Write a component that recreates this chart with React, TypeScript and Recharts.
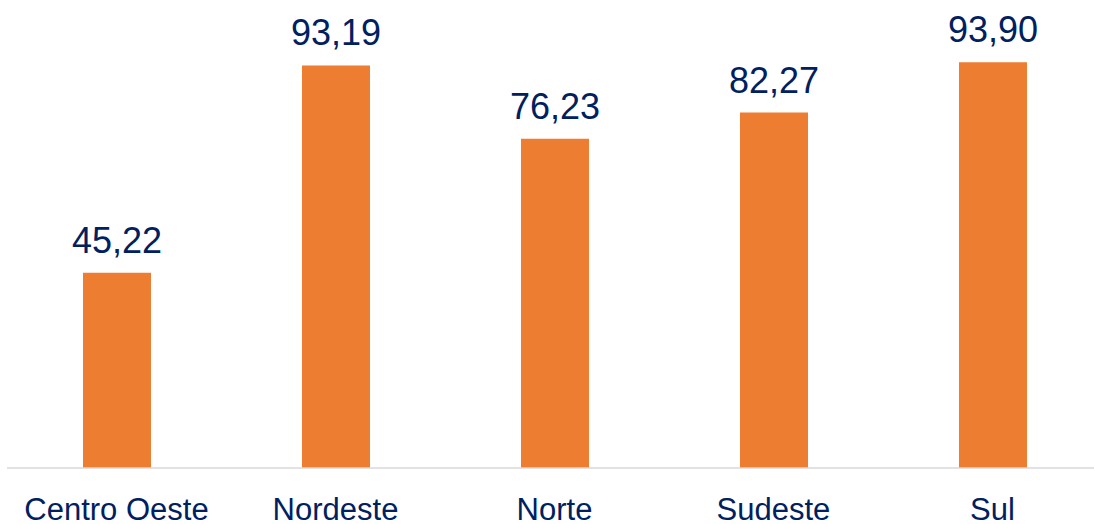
import { BarChart, Bar, XAxis, YAxis, LabelList } from "recharts";

const regions = ["Centro Oeste", "Nordeste", "Norte", "Sudeste", "Sul"];
const values = [45.22, 93.19, 76.23, 82.27, 93.9];

const data = regions.map((name, i) => ({ name, value: values[i] }));

const NAVY = "#002060";
const ORANGE = "#ED7D31";
const FONT = "'Liberation Sans', Arial, sans-serif";

function CategoryTick({ x, payload }: { x?: number; payload?: { value: string } }) {
  return (
    <text x={x} y={520} textAnchor="middle" fill={NAVY} fontSize={31} fontFamily={FONT}>
      {payload?.value}
    </text>
  );
}

export default function App() {
  return (
    <div style={{ position: "absolute", left: 0, top: 0, width: 1094, height: 524, overflow: "hidden", background: "#fff" }}>
      <BarChart width={1102} height={524} data={data} margin={{ top: 36, right: 0, bottom: 0, left: 7 }}>
        <XAxis
          dataKey="name"
          height={56}
          axisLine={{ stroke: "#D9D9D9", strokeWidth: 1.5 }}
          tickLine={false}
          tick={<CategoryTick />}
          interval={0}
        />
        <YAxis hide domain={[0, 100]} />
        <Bar dataKey="value" fill={ORANGE} barSize={68} isAnimationActive={false}>
          <LabelList
            dataKey="value"
            position="top"
            offset={20}
            formatter={(v: number) => v.toFixed(2).replace(".", ",")}
            style={{ fill: NAVY, fontSize: 36, fontFamily: FONT }}
          />
        </Bar>
      </BarChart>
    </div>
  );
}
